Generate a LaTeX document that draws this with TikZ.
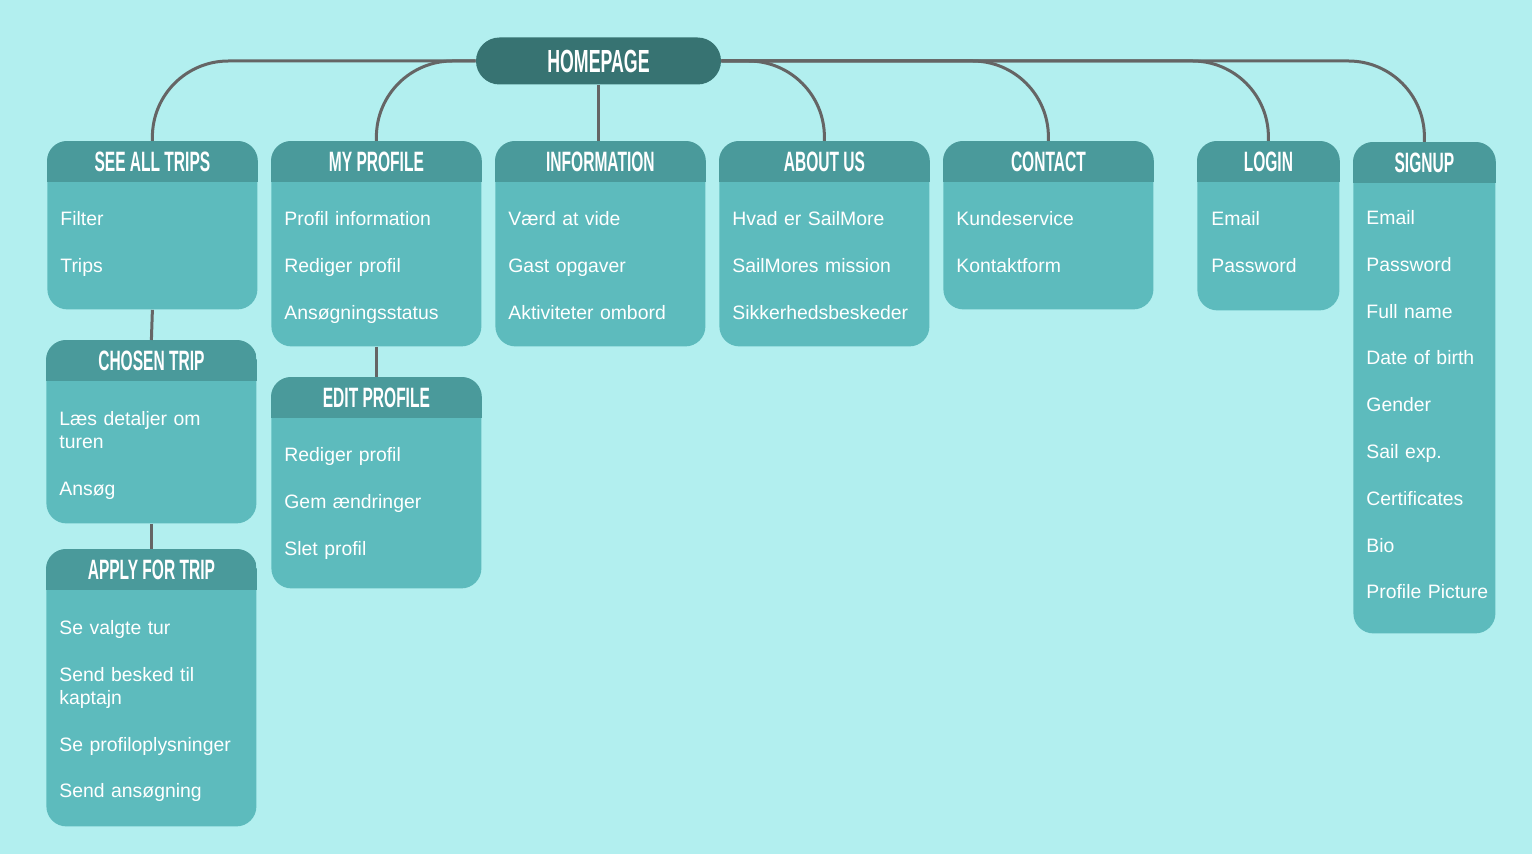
\documentclass[tikz,border=0pt]{standalone}
\usepackage{fontspec}
\setmainfont{Liberation Sans}
\newfontfamily\headfont[FakeStretch=0.555]{Liberation Sans}
\usetikzlibrary{
	positioning,
	chains,
}
\definecolor{SkyBg}{HTML}{B2EFEF}
\definecolor{HeadTeal}{HTML}{4A9A9B}
\definecolor{BodyTeal}{HTML}{5DBBBD}
\definecolor{HomeTeal}{HTML}{377372}
\definecolor{LinkGray}{HTML}{656565}
\newcommand{\itemfont}{\fontsize{9.7}{11.5}\selectfont}
% header band of a card, clipped to its rounded outline
\newcommand{\cardhead}[2]{%
	\begin{scope}
		\clip[rounded corners=10pt] (#1.north west) rectangle (#1.south east);
		\fill[HeadTeal] (#1.north west) rectangle ([yshift=-20.5pt]#1.north east);
	\end{scope}
	\node[headtext] (#1-h) at ([yshift=-10.25pt]#1.north) {#2};
}

\begin{document}
\begin{tikzpicture}[
		x=0.5pt, y=-0.5pt,
		every node/.style={text=white},
		node distance = 11.5pt,
		homebox/.style = {fill=HomeTeal, rounded corners=11.75pt,
			minimum width=122.5pt, minimum height=23.5pt, inner sep=0pt,
			font=\headfont\bfseries\fontsize{16}{16}\selectfont},
		card/.style = {rectangle, fill=BodyTeal, rounded corners=10pt,
			inner sep=0pt, anchor=north west, minimum width=105pt},
		narrow/.style = {minimum width=71pt},
		headtext/.style = {inner sep=0pt,
			font=\headfont\bfseries\fontsize{14}{14}\selectfont},
		item/.style = {font=\itemfont, text width=92pt, align=left,
			inner sep=0pt, execute at begin node=\strut,
			execute at end node=\strut, on chain},
		link/.style = {draw=LinkGray, line width=1.5pt, rounded corners=38pt},
	]
	\path[fill=SkyBg, use as bounding box] (0,0) rectangle (1532,854);

	\node[homebox] (home) at (598.5,61) {HOMEPAGE};

	\node[card, minimum height=84pt]         (trips)   at (47,141)   {};
	\node[card, minimum height=102.5pt]      (profile) at (271,141)  {};
	\node[card, minimum height=102.5pt]      (info)    at (495,141)  {};
	\node[card, minimum height=102.5pt]      (about)   at (719,141)  {};
	\node[card, minimum height=84pt]         (contact) at (943,141)  {};
	\node[card, narrow, minimum height=84.5pt]  (login)  at (1197,141) {};
	\node[card, narrow, minimum height=245.5pt] (signup) at (1353,142) {};
	\node[card, minimum height=91.5pt]       (chosen)  at (46,340)   {};
	\node[card, minimum height=105.5pt]      (edit)    at (271,377)  {};
	\node[card, minimum height=138.5pt]      (apply)   at (46,549)   {};

	\cardhead{trips}{SEE ALL TRIPS}
	\cardhead{profile}{MY PROFILE}
	\cardhead{info}{INFORMATION}
	\cardhead{about}{ABOUT US}
	\cardhead{contact}{CONTACT}
	\cardhead{login}{LOGIN}
	\cardhead{signup}{SIGNUP}
	\cardhead{chosen}{CHOSEN TRIP}
	\cardhead{edit}{EDIT PROFILE}
	\cardhead{apply}{APPLY FOR TRIP}

	\begin{scope}[start chain=trips-i going below]
		\node[item, below right=34pt and 6.5pt of trips.north west] {Filter};
		\node[item] {Trips};
	\end{scope}
	\begin{scope}[start chain=profile-i going below]
		\node[item, below right=34pt and 6.5pt of profile.north west] {Profil information};
		\node[item] {Rediger profil};
		\node[item] {Ansøgningsstatus};
	\end{scope}
	\begin{scope}[start chain=info-i going below]
		\node[item, below right=34pt and 6.5pt of info.north west] {Værd at vide};
		\node[item] {Gast opgaver};
		\node[item] {Aktiviteter ombord};
	\end{scope}
	\begin{scope}[start chain=about-i going below]
		\node[item, below right=34pt and 6.5pt of about.north west] {Hvad er SailMore};
		\node[item] {SailMores mission};
		\node[item] {Sikkerhedsbeskeder};
	\end{scope}
	\begin{scope}[start chain=contact-i going below]
		\node[item, below right=34pt and 6.5pt of contact.north west] {Kundeservice};
		\node[item] {Kontaktform};
	\end{scope}
	\begin{scope}[start chain=login-i going below]
		\node[item, below right=34pt and 7pt of login.north west] {Email};
		\node[item] {Password};
	\end{scope}
	\begin{scope}[start chain=signup-i going below]
		\node[item, below right=33pt and 6.5pt of signup.north west] {Email};
		\node[item] {Password};
		\node[item] {Full name};
		\node[item] {Date of birth};
		\node[item] {Gender};
		\node[item] {Sail exp.};
		\node[item] {Certificates};
		\node[item] {Bio};
		\node[item] {Profile Picture};
	\end{scope}
	\begin{scope}[start chain=chosen-i going below]
		\node[item, below right=34.5pt and 6.5pt of chosen.north west] {Læs detaljer om\\turen};
		\node[item] {Ansøg};
	\end{scope}
	\begin{scope}[start chain=edit-i going below]
		\node[item, below right=34pt and 6.5pt of edit.north west] {Rediger profil};
		\node[item] {Gem ændringer};
		\node[item] {Slet profil};
	\end{scope}
	\begin{scope}[start chain=apply-i going below]
		\node[item, below right=34.5pt and 6.5pt of apply.north west] {Se valgte tur};
		\node[item] {Send besked til\\kaptajn};
		\node[item] {Se profiloplysninger};
		\node[item] {Send ansøgning};
	\end{scope}

	% connectors
	\foreach \c in {trips,profile}
		\draw[link] (home.west) -| (\c.north);
	\foreach \c in {about,contact,login,signup}
		\draw[link] (home.east) -| (\c.north);
	\draw[link] (home.south) -- (home.south |- info.north);
	\draw[link] (trips.south) -- (chosen.north);
	\draw[link] (profile.south) -- (edit.north);
	\draw[link] (chosen.south) -- (apply.north);
\end{tikzpicture}
\end{document}
